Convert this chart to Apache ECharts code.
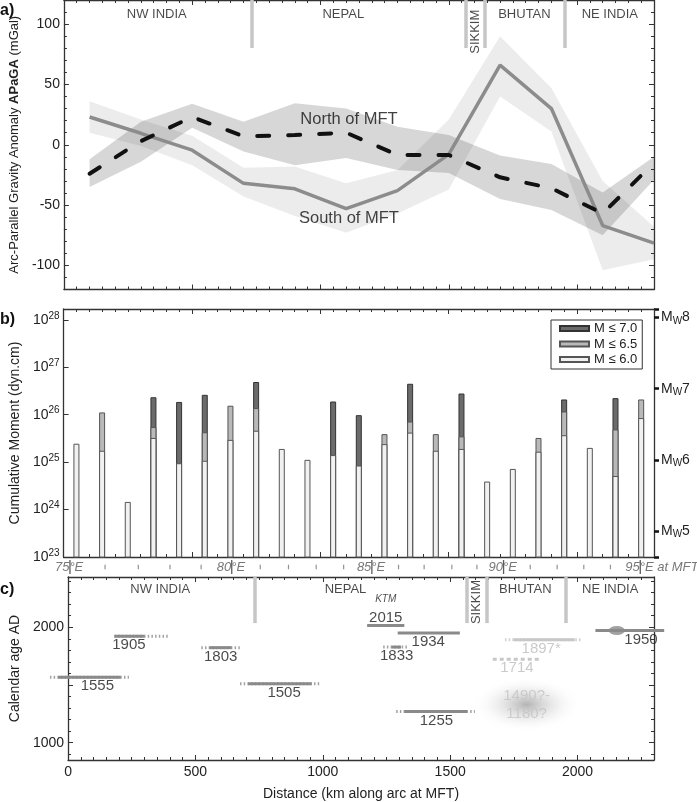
<!DOCTYPE html>
<html><head><meta charset="utf-8">
<script src="https://cdn.jsdelivr.net/npm/echarts@6/dist/echarts.min.js"></script>
<style>html,body{margin:0;padding:0;background:#fff}#c{width:697px;height:802px}</style>
</head><body><div id="c"></div><script>
// ---------- Panel a : arc-parallel gravity anomaly ----------
const gravKm   = [100, 300, 500, 700, 900, 1100, 1300, 1500, 1700, 1900, 2100, 2300];
const northVal = [-24, 3, 23, 7, 8, 10, -8.5, -8.5, -27, -36, -57, -15];
const northUp  = [-12, 19, 34, 19, 34.5, 30, 15, 8, -9, -16, -39.5, -10];
const northLo  = [-35, -14, 14, -5.5, -17, -11, -21, -23.5, -45, -54, -75, -29];
const southVal = [23, 9.5, -4.5, -32, -36.5, -53, -38, -8, 66, 30, -67, -81.5];
const southUp  = [36, 21, 7.5, -19, -18, -32, -21, 21, 90, 47, -30, -68];
const southLo  = [10, -1, -17, -43, -59, -73, -57, -37, 40, 11, -104, -95];
const annotText = ['North of MFT', 'South of MFT'];
const annotKm   = [1111, 1111];
const annotVal  = [21.3, -60.8];

// ---------- regions ----------
const regionNames = ['NW INDIA', 'NEPAL', 'SIKKIM', 'BHUTAN', 'NE INDIA'];
const regionKm    = [362, 1089, 1602, 1795, 2128];
const borderKm    = [733, 1566, 1642, 1954];

// ---------- Panel b : cumulative moment (dyn.cm) ----------
const barKm = [50,150,250,350,450,550,650,750,850,950,1050,1150,1250,1350,1450,1550,1650,1750,1850,1950,2050,2150,2250];
const m60 = [2.45e25,1.74e25,1.45e24,3.24e25,9.5e24,1.07e25,2.95e25,4.6e25,1.9e25,1.12e25,1.41e25,8.5e24,2.4e25,4.2e25,1.74e25,1.9e25,3.9e24,7.2e24,1.66e25,3.7e25,2.0e25,5.1e24,8.5e25];
const m65 = [null,1.12e26,null,5.5e25,null,4.27e25,1.55e26,1.38e26,null,null,null,null,3.9e25,7.2e25,3.9e25,3.5e25,null,null,3.24e25,1.17e26,null,4.9e25,2.1e26];
const m70 = [null,null,null,2.34e26,1.86e26,2.63e26,null,4.9e26,null,null,1.9e26,9.8e25,null,4.5e26,null,2.8e26,null,null,null,2.1e26,null,2.24e26,null];
const legendNames = ['M \u2264 7.0', 'M \u2264 6.5', 'M \u2264 6.0'];

// ---------- longitude at MFT ----------
const lonDeg = [75,76,77,78,79,80,81,82,83,84,85,86,87,88,89,90,91,92,93,94,95];
const lonKm  = [87,220,346,466,584,700,808,915,1020,1124,1231,1332,1429,1534,1629,1730,1831,1933,2034,2135,2248];

// ---------- Panel c : historical earthquakes ----------
const eqLabel     = ['1555','1905','1803','1505','2015','1934','1833','1255','1897*','1714','1950'];
const eqPos       = [1566, 1922, 1823, 1511, 2016, 1950, 1828, 1271, 1892, 1723, 1972];
const eqSolidFrom = [-39, 182, 555, 707, 1174, 1294, 1270, 1320, 1749, null, 2070];
const eqSolidTo   = [207, 300, 641, 956, 1320, 1538, 1307, 1566, 1989, null, 2340];
const eqDotFrom   = [-71, 182, 523, 675, null, null, 1237, 1288, 1715, null, null];
const eqDotTo     = [239, 397, 675, 987, null, null, 1336, 1597, 2020, null, null];
const eqDashFrom  = [null,null,null,null,null,null,null,null,null,1667,null];
const eqDashTo    = [null,null,null,null,null,null,null,null,null,1857,null];
const eqLabelKm   = [115, 239, 599, 848, 1247, 1414, 1290, 1446, 1857, 1762, 2249];
const eqFaint     = [0,0,0,0,0,0,0,0,1,1,0];
const uncertainLabel = '1490?-\n1180?';
const uncertainKm = 1800, uncertainPos = 1331;
const epiKm = 2154, epiPos = 1972;
const ktmKm = 1247, ktmPos = 2243;

const LOGMIN = 23, LOGMAX = 28.23;
const YCMIN = 850, YCMAX = 2435;

const FONT = '"Liberation Sans", Arial, Helvetica, sans-serif';
const AXC = '#333', TXT = '#222';

function xAx(grid, pos, labels, extra) {
  return Object.assign({
    type: 'value', gridIndex: grid, position: pos, min: 0, max: 2300, interval: 500,
    axisLine: {show: true, onZero: false, lineStyle: {color: AXC, width: 1.3}},
    axisTick: {show: true, inside: true, length: 5, lineStyle: {color: AXC}},
    minorTick: {show: true, splitNumber: 10, length: 3, lineStyle: {color: AXC}},
    splitLine: {show: false}, minorSplitLine: {show: false},
    axisLabel: {show: labels, color: TXT, fontSize: 14, margin: 5,
      formatter: v => (v % 500 === 0 ? String(v) : '')}
  }, extra || {});
}
function yAx(grid, pos, min, max, split, minorSplit, labels, fmt, extra) {
  return Object.assign({
    type: 'value', gridIndex: grid, position: pos, min: min, max: max, splitNumber: split,
    axisLine: {show: true, onZero: false, lineStyle: {color: AXC, width: 1.3}},
    axisTick: {show: true, inside: true, length: 5, lineStyle: {color: AXC}},
    minorTick: {show: minorSplit > 0, splitNumber: minorSplit || 5, length: 3, lineStyle: {color: AXC}},
    splitLine: {show: false}, minorSplitLine: {show: false},
    axisLabel: {show: labels, color: TXT, fontSize: 14, margin: 4, formatter: fmt}
  }, extra || {});
}
const isInt = v => Math.abs(v - Math.round(v)) < 1e-6;
const zip = (a, b) => a.map((v, i) => [v, b[i]]);
const lg = v => (v == null ? null : Math.log10(v));

function bandSeries(up, lo, color) {
  return {
    type: 'custom', xAxisIndex: 0, yAxisIndex: 0, silent: true, z: 1,
    data: gravKm.map((x, i) => [x, lo[i], up[i]]),
    renderItem: (p, api) => {
      if (p.dataIndex !== 0) return null;
      const pts = [];
      for (let i = 0; i < gravKm.length; i++) pts.push(api.coord([gravKm[i], up[i]]));
      for (let i = gravKm.length - 1; i >= 0; i--) pts.push(api.coord([gravKm[i], lo[i]]));
      return {type: 'polygon', shape: {points: pts}, style: {fill: color}};
    }
  };
}

const barSeries = [m70, m65, m60].map((arr, k) => ({
  type: 'bar', name: legendNames[k], xAxisIndex: 2, yAxisIndex: 2,
  barWidth: 6, barGap: '-100%', clip: true,
  itemStyle: {color: ['#6b6b6b', '#b9b9b9', '#f1f1f1'][k], borderColor: ['#333', '#555', '#555'][k], borderWidth: 1},
  data: barKm.map((x, i) => arr[i] == null ? [x, null] : [x, lg(arr[i])])
}));

function segSeries(fromArr, toArr, styleFn, z) {
  const data = [];
  eqLabel.forEach((n, i) => { if (fromArr[i] != null) data.push([fromArr[i], toArr[i], eqPos[i], eqFaint[i]]); });
  return {
    type: 'custom', xAxisIndex: 5, yAxisIndex: 5, z: z, silent: true,
    renderItem: (p, api) => {
      const a = api.coord([api.value(0), api.value(2)]);
      const b = api.coord([api.value(1), api.value(2)]);
      return {type: 'line', shape: {x1: a[0], y1: a[1], x2: b[0], y2: b[1]}, style: styleFn(api.value(3))};
    },
    data: data
  };
}

const borderMark = (top, bottom) => ({
  silent: true, symbol: 'none', label: {show: false}, animation: false,
  lineStyle: {color: '#c6c6c6', width: 3.5, type: 'solid'},
  data: borderKm.map(k => [{coord: [k, top]}, {coord: [k, bottom]}])
});
const regionSeries = (xi, yi, yLab, ySik) => ({
  type: 'scatter', xAxisIndex: xi, yAxisIndex: yi, symbolSize: 0, silent: true, z: 5,
  data: regionNames.map((n, i) => ({
    name: n, value: [regionKm[i], n === 'SIKKIM' ? ySik : yLab],
    label: n === 'SIKKIM' ? {rotate: 90} : {}
  })),
  label: {show: true, position: 'inside', formatter: '{b}', color: '#1a1a1a', fontSize: 13}
});

const option = {
  animation: false,
  textStyle: {fontFamily: FONT},
  grid: [
    {left: 47, right: 43, top: 0, height: 289.5},
    {left: 47, right: 43, top: 309, height: 248},
    {left: 47, right: 43, top: 557, height: 20},
    {left: 47, right: 43, top: 577, height: 191.3}
  ],
  legend: {
    data: legendNames, orient: 'vertical', left: 551, top: 320,
    itemWidth: 29, itemHeight: 5, itemGap: 2.5, icon: 'rect',
    borderColor: '#333', borderWidth: 1, borderRadius: 0, padding: [2, 5, 3, 8],
    textStyle: {fontSize: 13, color: TXT, lineHeight: 13}
  },
  xAxis: [
    xAx(0, 'bottom', false), xAx(0, 'top', false),
    xAx(1, 'bottom', false), xAx(1, 'top', false),
    {type: 'value', gridIndex: 2, min: 0, max: 2300, show: false},
    xAx(3, 'bottom', true, {name: 'Distance (km along arc at MFT)', nameLocation: 'middle', nameGap: 27,
      nameTextStyle: {fontSize: 14, color: TXT}}),
    xAx(3, 'top', false)
  ],
  yAxis: [
    yAx(0, 'left', -120, 120, 5, 5, true, v => (v % 50 === 0 ? String(v) : ''), {
      name: 'Arc-Parallel Gravity Anomaly {b|APaGA} (mGal)', nameLocation: 'middle', nameGap: 35, nameRotate: 90,
      nameTextStyle: {fontSize: 13, color: TXT, rich: {b: {fontSize: 13, fontWeight: 'bold', color: TXT}}}
    }),
    yAx(0, 'right', -120, 120, 5, 5, false),
    yAx(1, 'left', LOGMIN, LOGMAX, 5, 0, true, null, {
      axisLabel: {show: true, margin: 4, formatter: v => (isInt(v) && v <= 28 ? '{b|10}{s|' + Math.round(v) + '}' : ''),
        rich: {b: {fontSize: 14, color: TXT}, s: {fontSize: 10, color: TXT, padding: [0, 0, 8, 0]}}},
      name: 'Cumulative Moment (dyn.cm)', nameLocation: 'middle', nameGap: 41, nameRotate: 90,
      nameTextStyle: {fontSize: 14, color: TXT}
    }),
    yAx(1, 'right', LOGMIN / 1.5 - 10.7, LOGMAX / 1.5 - 10.7, 4, 0, true, null, {
      axisTick: {show: true, inside: false, length: 5, lineStyle: {color: '#111', width: 2.5}},
      axisLabel: {show: true, margin: 7, formatter: v => (isInt(v) ? '{m|M}{w|W}{m|' + Math.round(v) + '}' : ''),
        rich: {m: {fontSize: 14, color: TXT}, w: {fontSize: 10, color: TXT, padding: [7, 0, 0, 0]}}}
    }),
    {type: 'value', gridIndex: 2, min: -1, max: 1, show: false},
    yAx(3, 'left', YCMIN, YCMAX, 3, 5, true, v => (v === 1000 || v === 2000 ? String(v) : ''), {
      name: 'Calendar age AD', nameLocation: 'middle', nameGap: 39, nameRotate: 90,
      nameTextStyle: {fontSize: 14, color: TXT}
    }),
    yAx(3, 'right', YCMIN, YCMAX, 3, 5, false)
  ],
  graphic: [
    {type: 'text', left: 0, top: 3, style: {text: 'a)', font: 'bold 16px ' + FONT, fill: '#111'}},
    {type: 'text', left: 0, top: 312, style: {text: 'b)', font: 'bold 16px ' + FONT, fill: '#111'}},
    {type: 'text', left: 0, top: 582, style: {text: 'c)', font: 'bold 16px ' + FONT, fill: '#111'}}
  ],
  series: [
    bandSeries(southUp, southLo, 'rgba(0,0,0,0.075)'),
    bandSeries(northUp, northLo, 'rgba(0,0,0,0.155)'),
    {type: 'line', xAxisIndex: 0, yAxisIndex: 0, symbol: 'none', silent: true, z: 3,
      lineStyle: {color: '#8c8c8c', width: 3.5}, data: zip(gravKm, southVal),
      markLine: borderMark(120, 80.2)},
    {type: 'line', xAxisIndex: 0, yAxisIndex: 0, symbol: 'none', silent: true, z: 4,
      lineStyle: {color: '#111', width: 4, type: [12, 19], cap: 'round'}, data: zip(gravKm, northVal)},
    {type: 'scatter', xAxisIndex: 0, yAxisIndex: 0, symbolSize: 0, silent: true, z: 6,
      data: annotText.map((t, i) => ({name: t, value: [annotKm[i], annotVal[i]]})),
      label: {show: true, position: 'inside', formatter: '{b}', fontSize: 16.5, color: '#111'}},
    regionSeries(0, 0, 108.4, 93.7),
    ...barSeries,
    {type: 'scatter', xAxisIndex: 4, yAxisIndex: 4, symbol: 'rect', silent: true,
      data: lonDeg.map((d, i) => {
        const major = d % 5 === 0;
        return {
          name: major ? (d + '\u00b0E' + (d === 95 ? ' at MFT' : '')) : '',
          value: [lonKm[i], 0],
          symbolSize: major ? [1.3, 14] : [1.2, 4.5],
          itemStyle: {color: major ? '#333' : '#777'},
          label: {show: major}
        };
      }),
      label: {position: 'inside', align: 'left', offset: [-15, 0], formatter: '{b}',
        fontStyle: 'italic', fontSize: 13, color: '#555'}},
    segSeries(eqDotFrom, eqDotTo, f => ({stroke: f ? '#d0d0d0' : '#a3a3a3', lineWidth: 3, lineDash: [1.5, 2.2]}), 2),
    segSeries(eqDashFrom, eqDashTo, f => ({stroke: '#c8c8c8', lineWidth: 3, lineDash: [4, 3]}), 3),
    segSeries(eqSolidFrom, eqSolidTo, f => ({stroke: f ? '#c8c8c8' : '#8a8a8a', lineWidth: 3}), 3),
    {type: 'scatter', xAxisIndex: 5, yAxisIndex: 5, silent: true, z: 1, symbol: 'circle', symbolSize: [110, 55],
      itemStyle: {color: new echarts.graphic.RadialGradient(0.5, 0.5, 0.5, [
        {offset: 0, color: 'rgba(150,150,150,0.9)'},
        {offset: 0.45, color: 'rgba(190,190,190,0.45)'},
        {offset: 1, color: 'rgba(255,255,255,0)'}])},
      data: [{name: uncertainLabel, value: [uncertainKm, uncertainPos]}],
      label: {show: true, position: 'inside', formatter: '{b}', fontSize: 15, lineHeight: 18, color: '#c4c4c4'}},
    {type: 'scatter', xAxisIndex: 5, yAxisIndex: 5, silent: true, z: 4, symbol: 'circle', symbolSize: [16, 9],
      itemStyle: {color: '#8a8a8a'}, data: [[epiKm, epiPos]]},
    {type: 'scatter', xAxisIndex: 5, yAxisIndex: 5, symbolSize: 0, silent: true, z: 6,
      data: eqLabel.map((n, i) => ({name: n, value: [eqLabelKm[i], eqPos[i]],
        label: {offset: [0, n === '2015' ? -8 : 9], color: eqFaint[i] ? '#bdbdbd' : '#1a1a1a'}}))
        .concat([{name: 'KTM', value: [ktmKm, ktmPos], label: {fontSize: 10, fontStyle: 'italic', color: '#222'}}]),
      label: {show: true, position: 'inside', formatter: '{b}', fontSize: 15}},
    Object.assign(regionSeries(5, 5, 2325, 2218), {markLine: borderMark(YCMAX, 2036)})
  ]
};
const chart = echarts.init(document.getElementById('c'), null, {renderer: 'canvas', width: 697, height: 802});
chart.setOption(option);
</script></body></html>
